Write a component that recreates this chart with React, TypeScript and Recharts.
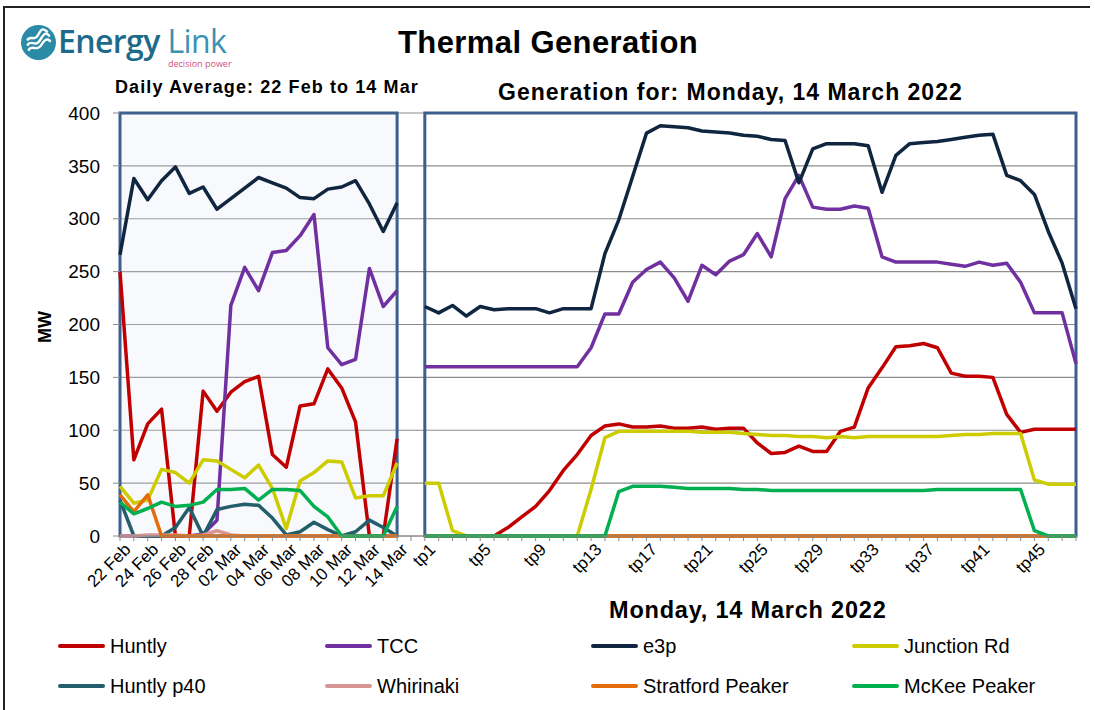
import { LineChart, Line, XAxis, YAxis, CartesianGrid, ReferenceArea } from 'recharts';

// categories
const dayLabels = [
  '22 Feb', '23 Feb', '24 Feb', '25 Feb', '26 Feb', '27 Feb', '28 Feb',
  '01 Mar', '02 Mar', '03 Mar', '04 Mar', '05 Mar', '06 Mar', '07 Mar',
  '08 Mar', '09 Mar', '10 Mar', '11 Mar', '12 Mar', '13 Mar', '14 Mar',
];
const tpLabels = Array.from({ length: 48 }, (_, i) => `tp${i + 1}`);
const shownTicks = new Set([
  '22 Feb', '24 Feb', '26 Feb', '28 Feb', '02 Mar', '04 Mar', '06 Mar', '08 Mar', '10 Mar', '12 Mar', '14 Mar',
  'tp1', 'tp5', 'tp9', 'tp13', 'tp17', 'tp21', 'tp25', 'tp29', 'tp33', 'tp37', 'tp41', 'tp45',
]);
const yTicks = [0, 50, 100, 150, 200, 250, 300, 350, 400];

// daily average, 22 Feb to 14 Mar (MW)
const huntlyDaily = [250, 72, 106, 120, 0, 0, 137, 118, 136, 146, 151, 77, 65, 123, 125, 158, 140, 108, 0, 0, 92];
const tccDaily = [0, 0, 0, 0, 0, 0, 2, 15, 218, 254, 232, 268, 270, 284, 304, 178, 162, 167, 253, 217, 232];
const e3pDaily = [266, 338, 318, 336, 349, 324, 330, 309, 319, 329, 339, 334, 329, 320, 319, 328, 330, 336, 314, 288, 315];
const junctionDaily = [47, 31, 34, 63, 60, 50, 72, 71, 63, 55, 67, 45, 7, 52, 60, 71, 70, 36, 38, 38, 69];
const huntlyP40Daily = [34, 0, 0, 0, 8, 27, 0, 25, 28, 30, 29, 17, 1, 4, 13, 6, 0, 4, 15, 8, 0];
const whirinakiDaily = [0, 0, 1, 1, 1, 0, 1, 5, 1, 0, 0, 0, 0, 0, 0, 0, 0, 0, 0, 0, 0];
const stratfordDaily = [39, 23, 39, 0, 0, 0, 0, 0, 0, 0, 0, 0, 0, 0, 0, 0, 0, 0, 0, 0, 0];
const mckeeDaily = [32, 21, 26, 32, 28, 29, 32, 44, 44, 45, 34, 44, 44, 43, 28, 18, 0, 0, 0, 0, 28];

// trading periods, Monday 14 March 2022 (MW)
const huntlyTp = [0, 0, 0, 0, 0, 0, 8, 18, 28, 43, 62, 77, 95, 104, 106, 103, 103, 104, 102, 102, 103, 101, 102, 102,
  88, 78, 79, 85, 80, 80, 99, 103, 140, 159, 179, 180, 182, 178, 154, 151, 151, 150, 115, 98, 101, 101, 101, 101];
const tccTp = [160, 160, 160, 160, 160, 160, 160, 160, 160, 160, 160, 160, 178, 210, 210, 240, 252, 259, 244, 222, 256, 247, 260, 266,
  286, 264, 319, 341, 311, 309, 309, 312, 310, 264, 259, 259, 259, 259, 257, 255, 259, 256, 258, 240, 211, 211, 211, 163];
const e3pTp = [217, 211, 218, 208, 217, 214, 215, 215, 215, 211, 215, 215, 215, 267, 299, 340, 381, 388, 387, 386, 383, 382, 381, 379,
  378, 375, 374, 334, 366, 371, 371, 371, 369, 325, 360, 371, 372, 373, 375, 377, 379, 380, 341, 336, 323, 288, 258, 215];
const junctionTp = [50, 50, 5, 0, 0, 0, 0, 0, 0, 0, 0, 0, 44, 93, 99, 99, 99, 99, 99, 99, 98, 98, 98, 97,
  96, 95, 95, 94, 94, 93, 94, 93, 94, 94, 94, 94, 94, 94, 95, 96, 96, 97, 97, 97, 53, 49, 49, 49];
const huntlyP40Tp = new Array(48).fill(0);
const whirinakiTp = new Array(48).fill(0);
const stratfordTp = new Array(48).fill(0);
const mckeeTp = [0, 0, 0, 0, 0, 0, 0, 0, 0, 0, 0, 0, 0, 0, 42, 47, 47, 47, 46, 45, 45, 45, 45, 44,
  44, 43, 43, 43, 43, 43, 43, 43, 43, 43, 43, 43, 43, 44, 44, 44, 44, 44, 44, 44, 5, 0, 0, 0];

const series = [
  { key: 'huntly', name: 'Huntly', color: '#c00000', daily: huntlyDaily, tp: huntlyTp },
  { key: 'tcc', name: 'TCC', color: '#7030a0', daily: tccDaily, tp: tccTp },
  { key: 'e3p', name: 'e3p', color: '#10253f', daily: e3pDaily, tp: e3pTp },
  { key: 'junction', name: 'Junction Rd', color: '#cccc00', daily: junctionDaily, tp: junctionTp },
  { key: 'p40', name: 'Huntly p40', color: '#245d6c', daily: huntlyP40Daily, tp: huntlyP40Tp },
  { key: 'whirinaki', name: 'Whirinaki', color: '#d99594', daily: whirinakiDaily, tp: whirinakiTp },
  { key: 'stratford', name: 'Stratford Peaker', color: '#e46c0a', daily: stratfordDaily, tp: stratfordTp },
  { key: 'mckee', name: 'McKee Peaker', color: '#00b050', daily: mckeeDaily, tp: mckeeTp },
];

// one category axis: daily points, a spacer, then the trading periods
const rows: any[] = [];
dayLabels.forEach((label, i) => {
  const r: any = { label };
  series.forEach(s => { r['d_' + s.key] = s.daily[i]; });
  rows.push(r);
});
rows.push({ label: ' ' });
tpLabels.forEach((label, i) => {
  const r: any = { label };
  series.forEach(s => { r['t_' + s.key] = s.tp[i]; });
  rows.push(r);
});

const BORDER = '#3d5f8e';

const XTick = (props: any) => {
  const { x, y, payload } = props;
  if (!shownTicks.has(payload.value)) return <g />;
  return (
    <g transform={`translate(${x + 3},${y - 1})`}>
      <text x={0} y={0} dy="0.72em" textAnchor="end" transform="rotate(-45)" fontSize={17} fill="#000">
        {payload.value}
      </text>
    </g>
  );
};

export default function App() {
  return (
    <div style={{ position: 'absolute', left: 0, top: 0, width: 1095, height: 710, background: '#fff',
      fontFamily: '"Liberation Sans", Arial, sans-serif', overflow: 'hidden' }}>
      {/* frame */}
      <div style={{ position: 'absolute', left: 3, top: 6, width: 1085, height: 720, borderLeft: '2px solid #222', borderTop: '2px solid #222' }} />

      {/* logo */}
      <svg style={{ position: 'absolute', left: 20, top: 24 }} width={37} height={37} viewBox="0 0 36 36">
        <circle cx={18} cy={18} r={17} fill="#2b8ba6" />
        <path d="M7 21 C 11 14, 15 24, 20 15 S 27 10, 29 12" stroke="#fff" strokeWidth={2.4} fill="none" />
        <path d="M8 26 C 12 19, 16 28, 21 20 S 28 16, 30 17" stroke="#fff" strokeWidth={2.4} fill="none" />
        <path d="M7 16 C 10 10, 14 18, 18 10 S 24 6, 27 8" stroke="#fff" strokeWidth={2.4} fill="none" />
      </svg>
      <div style={{ position: 'absolute', left: 58, top: 24, fontFamily: '"Open Sans", sans-serif', fontSize: 32, lineHeight: '34px', letterSpacing: -0.6 }}>
        <span style={{ color: '#1d6a8a', fontWeight: 600 }}>Energy</span>{' '}
        <span style={{ color: '#3a93b3' }}>Link</span>
      </div>
      <div style={{ position: 'absolute', left: 168, top: 58, fontSize: 9, lineHeight: '11px', color: '#d24f7a', fontFamily: '"Open Sans", sans-serif' }}>decision power</div>

      {/* titles */}
      <div style={{ position: 'absolute', left: 398, top: 25, fontWeight: 'bold', fontSize: 31, letterSpacing: 0.4 }}>Thermal Generation</div>
      <div style={{ position: 'absolute', left: 115, top: 77, fontWeight: 'bold', fontSize: 18, letterSpacing: 1.1 }}>Daily Average: 22 Feb to 14 Mar</div>
      <div style={{ position: 'absolute', left: 498, top: 79, fontWeight: 'bold', fontSize: 23, letterSpacing: 1 }}>Generation for: Monday, 14 March 2022</div>
      <div style={{ position: 'absolute', left: 609, top: 597, fontWeight: 'bold', fontSize: 23.5, letterSpacing: 0.8 }}>Monday, 14 March 2022</div>
      <div style={{ position: 'absolute', left: 45, top: 327, transform: 'translate(-50%,-50%) rotate(-90deg)', fontWeight: 'bold', fontSize: 18 }}>MW</div>

      <div style={{ position: 'absolute', left: 0, top: 0 }}>
        <LineChart width={1095} height={710} data={rows} margin={{ top: 113, right: 19, left: 60, bottom: 114 }}>
          <CartesianGrid vertical={false} stroke="#8c8c8c" strokeWidth={1.2} />
          <ReferenceArea x1="22 Feb" x2="14 Mar" y1={0} y2={400} fill="#dde4f0" fillOpacity={0.22} stroke={BORDER} strokeWidth={3} isFront={false} />
          <ReferenceArea x1="tp1" x2="tp48" y1={0} y2={400} fill="none" stroke={BORDER} strokeWidth={3} isFront={false} />
          <XAxis dataKey="label" scale="point" interval={0} tick={<XTick />} tickSize={5} height={60}
            axisLine={{ stroke: '#888' }} tickLine={{ stroke: '#888' }} />
          <YAxis domain={[0, 400]} ticks={yTicks} width={60} tickSize={7} tickMargin={13} axisLine={false}
            tickLine={{ stroke: '#8c8c8c' }} tick={{ fill: '#000', fontSize: 19 }} />
          {series.map(s => (
            <Line key={'d_' + s.key} dataKey={'d_' + s.key} stroke={s.color} strokeWidth={3.5} dot={false}
              isAnimationActive={false} strokeLinejoin="round" />
          ))}
          {series.map(s => (
            <Line key={'t_' + s.key} dataKey={'t_' + s.key} stroke={s.color} strokeWidth={3.5} dot={false}
              isAnimationActive={false} strokeLinejoin="round" />
          ))}
        </LineChart>
      </div>

      {/* legend */}
      {series.map((s, i) => {
        const colX = [58, 325, 591, 852][i % 4];
        const rowY = [646, 686][Math.floor(i / 4)];
        return (
          <div key={s.key} style={{ position: 'absolute', left: colX, top: rowY - 12, height: 24, display: 'flex', alignItems: 'center' }}>
            <div style={{ width: 47, height: 4, borderRadius: 2, background: s.color, marginRight: 5 }} />
            <span style={{ fontSize: 20 }}>{s.name}</span>
          </div>
        );
      })}
    </div>
  );
}
